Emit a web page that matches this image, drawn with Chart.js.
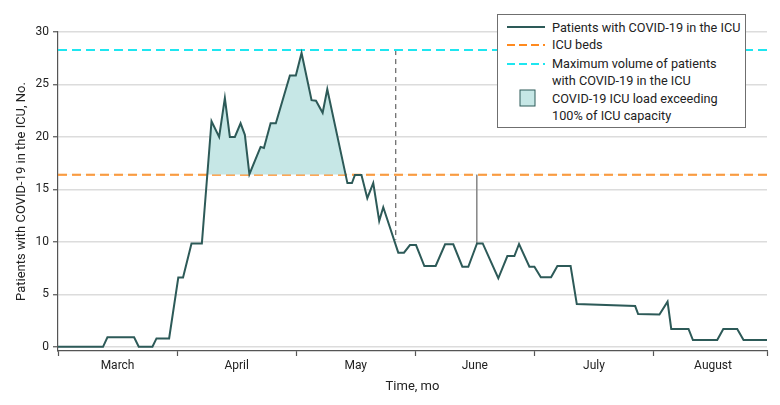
<!DOCTYPE html>
<html lang="en">
<head>
    <meta charset="UTF-8">
    <title>Patients with COVID-19 in the ICU</title>
    <script src="https://cdn.jsdelivr.net/npm/chart.js@4.4.0/dist/chart.umd.min.js"></script>
    <style>
        body { margin: 0; background: #fff; font-family: Roboto, sans-serif; }
        #wrap { position: relative; width: 780px; height: 405px; }
        #legend {
            position: absolute; left: 497px; top: 14px; width: 247px; height: 112px;
            border: 1px solid #6f6f6f; background: #fff; font-size: 12.7px; color: #222;
        }
        #legend .txt { position: absolute; left: 54px; line-height: 17px; white-space: nowrap; }
        #legend svg { position: absolute; left: 0; top: 0; }
    </style>
</head>
<body>
<div id="wrap">
    <canvas id="icuChart" width="780" height="405"></canvas>
    <div id="legend">
        <svg width="60" height="112">
            <line x1="9" y1="12" x2="47" y2="12" stroke="#2d5a58" stroke-width="2"/>
            <line x1="9" y1="30" x2="47" y2="30" stroke="#ff8a1f" stroke-width="2" stroke-dasharray="8 4"/>
            <line x1="9" y1="49" x2="47" y2="49" stroke="#1ee6f0" stroke-width="2" stroke-dasharray="8 4"/>
            <rect x="22" y="75" width="15" height="16" fill="#c6e7e6" stroke="#2d5a58" stroke-width="1"/>
        </svg>
        <div class="txt" style="top:4px">Patients with COVID-19 in the ICU</div>
        <div class="txt" style="top:21px">ICU beds</div>
        <div class="txt" style="top:40px">Maximum volume of patients<br>with COVID-19 in the ICU</div>
        <div class="txt" style="top:75px">COVID-19 ICU load exceeding<br>100% of ICU capacity</div>
    </div>
</div>

<script>
    // x positions in months since 1 March (0 = start of March)
    const monthPos = [
        0, 0.378, 0.415, 0.639, 0.678, 0.793, 0.827, 0.933, 1.010, 1.050,
        1.121, 1.208, 1.289, 1.353, 1.401, 1.443, 1.485, 1.533, 1.569, 1.607,
        1.701, 1.729, 1.785, 1.829, 1.947, 1.997, 2.045, 2.129, 2.166, 2.222,
        2.261, 2.430, 2.468, 2.493, 2.548, 2.597, 2.647, 2.697, 2.731, 2.857,
        2.905, 2.955, 3.006, 3.076, 3.171, 3.250, 3.319, 3.395, 3.445, 3.518,
        3.566, 3.697, 3.773, 3.832, 3.871, 3.958, 4.000, 4.054, 4.140, 4.193,
        4.304, 4.356, 4.846, 4.871, 5.050, 5.118, 5.149, 5.294, 5.331, 5.535,
        5.586, 5.703, 5.756, 5.953
    ];
    const patients = [
        0, 0, 0.9, 0.9, 0, 0, 0.8, 0.8, 6.6, 6.6,
        9.85, 9.85, 21.5, 20.0, 23.7, 20.0, 20.0, 21.3, 20.2, 16.45,
        19.05, 18.95, 21.3, 21.3, 25.85, 25.85, 28.0, 23.5, 23.45, 22.3,
        24.55, 15.6, 15.6, 16.38, 16.38, 14.16, 15.6, 12.0, 13.3, 8.97,
        8.97, 9.7, 9.7, 7.7, 7.7, 9.77, 9.77, 7.63, 7.63, 9.85,
        9.85, 6.53, 8.65, 8.65, 9.8, 7.63, 7.63, 6.62, 6.62, 7.7,
        7.7, 4.07, 3.88, 3.12, 3.07, 4.3, 1.7, 1.7, 0.64, 0.64,
        1.7, 1.7, 0.64, 0.64
    ];

    const icuBeds = 16.4;
    const maxVolume = 28.28;

    // vertical markers
    const dashedMarkerX = [2.836, 2.836];
    const dashedMarkerY = [maxVolume, 10.2];
    const solidMarkerX = [3.516, 3.516];
    const solidMarkerY = [icuBeds, 9.85];

    const monthNames = ['March', 'April', 'May', 'June', 'July', 'August'];
    const xEnd = 5.953;
    const xTickVals = [0, 0.5, 1, 1.5, 2, 2.5, 3, 3.5, 4, 4.5, 5, 5.5, xEnd];
    const yTickVals = [0, 5, 10, 15, 20, 25, 30];

    const pts = (xs, ys) => xs.map((x, i) => ({ x: x, y: ys[i] }));
    const isLabelTick = i => i % 2 === 1 && i < xTickVals.length - 1;

    const font = { family: 'Roboto, sans-serif', size: 12 };

    new Chart(document.getElementById('icuChart'), {
        type: 'line',
        data: {
            datasets: [
                {
                    label: 'Patients with COVID-19 in the ICU',
                    data: pts(monthPos, patients),
                    borderColor: '#2d5a58',
                    borderWidth: 2,
                    pointRadius: 0,
                    tension: 0,
                    fill: { target: { value: icuBeds }, above: '#c6e7e6', below: 'rgba(0,0,0,0)' }
                },
                {
                    label: 'ICU beds',
                    data: pts([0, xEnd], [icuBeds, icuBeds]),
                    borderColor: '#ff8a1f',
                    borderWidth: 2,
                    borderDash: [9, 5],
                    pointRadius: 0
                },
                {
                    label: 'Maximum volume',
                    data: pts([0, xEnd], [maxVolume, maxVolume]),
                    borderColor: '#1ee6f0',
                    borderWidth: 2,
                    borderDash: [9, 5],
                    pointRadius: 0
                },
                {
                    label: 'marker dashed',
                    data: pts(dashedMarkerX, dashedMarkerY),
                    borderColor: '#444',
                    borderWidth: 1,
                    borderDash: [5, 4],
                    pointRadius: 0
                },
                {
                    label: 'marker solid',
                    data: pts(solidMarkerX, solidMarkerY),
                    borderColor: '#8a8a8a',
                    borderWidth: 1,
                    pointRadius: 0
                }
            ]
        },
        options: {
            responsive: false,
            animation: false,
            layout: { padding: { top: 32, right: 13, left: 0, bottom: 0 } },
            plugins: { legend: { display: false }, tooltip: { enabled: false } },
            scales: {
                x: {
                    type: 'linear',
                    min: 0,
                    max: xEnd,
                    afterBuildTicks: s => { s.ticks = xTickVals.map(v => ({ value: v })); },
                    afterFit: s => { s.height = 54; },
                    ticks: {
                        autoSkip: false,
                        maxRotation: 0,
                        padding: 3,
                        color: '#222',
                        font: font,
                        callback: (v, i) => isLabelTick(i) ? monthNames[(i - 1) / 2] : ''
                    },
                    grid: {
                        drawOnChartArea: false,
                        tickLength: 5,
                        tickWidth: 1.2,
                        tickColor: ctx => isLabelTick(ctx.index) ? 'rgba(0,0,0,0)' : '#555'
                    },
                    border: { color: '#555', width: 1.2 },
                    title: { display: true, text: 'Time, mo', color: '#222', font: { family: font.family, size: 13 }, padding: { top: 0, bottom: 10 } }
                },
                y: {
                    min: -0.4,
                    max: 30,
                    afterBuildTicks: s => { s.ticks = yTickVals.map(v => ({ value: v })); },
                    afterFit: s => { s.width = 58; },
                    ticks: { padding: 4, color: '#222', font: font },
                    grid: { color: '#dcdcdc', lineWidth: 1.5, tickColor: '#555', tickLength: 5, tickWidth: 1.2 },
                    border: { color: '#555', width: 1.2 },
                    title: { display: true, text: 'Patients with COVID-19 in the ICU, No.', color: '#222', font: { family: font.family, size: 13 }, padding: { top: 14, bottom: 0 } }
                }
            }
        }
    });
</script>
</body>
</html>
